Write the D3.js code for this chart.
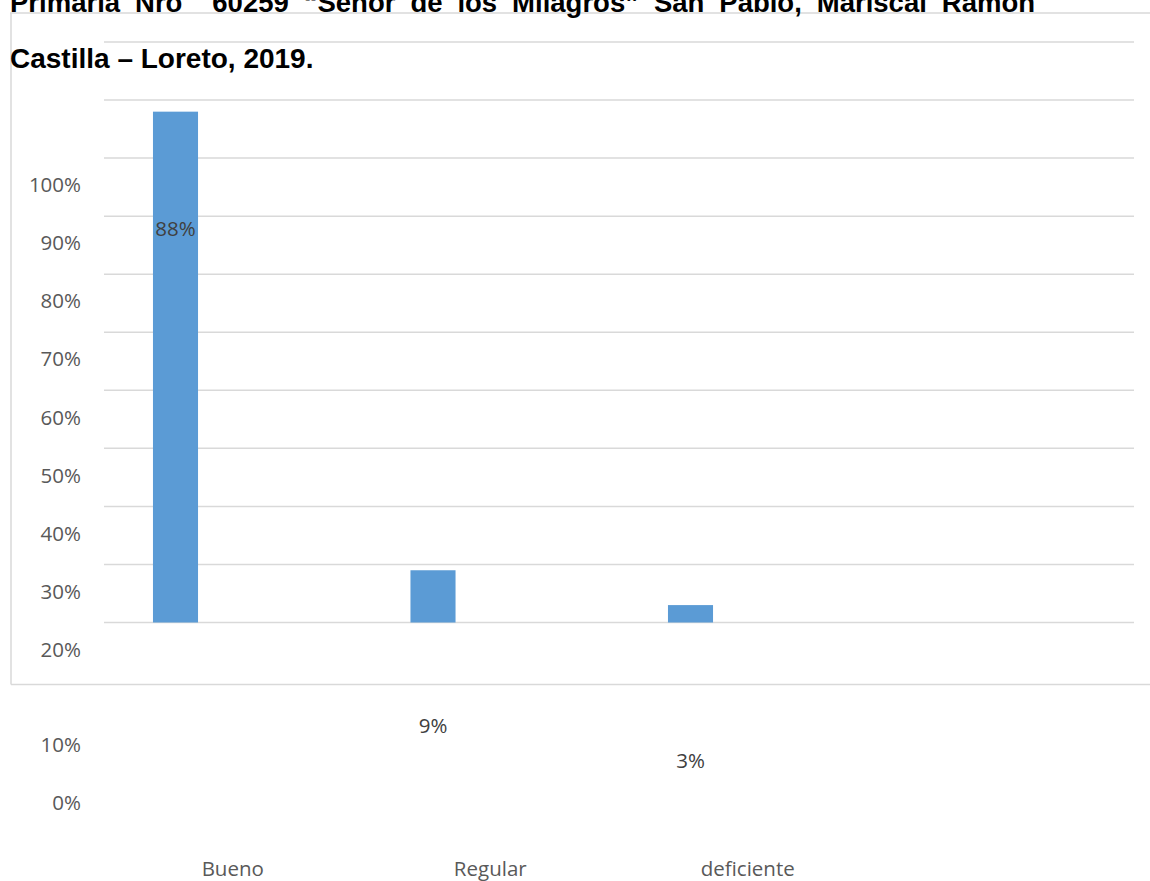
<!DOCTYPE html>
<html>
<head>
<meta charset="utf-8">
<script src="https://cdn.jsdelivr.net/npm/d3@7"></script>
<style>
  html, body { margin: 0; padding: 0; background: #ffffff; overflow: hidden; }
  svg { display: block; }
</style>
</head>
<body>
<svg id="chart" width="1150" height="881"></svg>
<script>
// Category slots (the fourth slot is left empty)
const categories = ["Bueno", "Regular", "deficiente", ""];
// Percentage of respondents per category
const values = [88, 9, 3, null];
// Axis tick values
const yTicks = [0, 10, 20, 30, 40, 50, 60, 70, 80, 90, 100];
const titleLines = [
  "Primaria Nro  60259 \u201cSeñor de los Milagros\u201d San Pablo, Mariscal Ramón",
  "Castilla \u2013 Loreto, 2019."
];

const W = 1150, H = 881;
const plot = { left: 104, right: 1134, top: 42, bottom: 622.5 };
const frame = { left: 11, top: 13, bottom: 684.5 };
const gridColor = "#d9d9d9";
const barColor = "#5b9bd5";
const axisFont = "'Open Sans', 'Noto Sans', sans-serif";

const svg = d3.select("#chart");

const x = d3.scaleBand()
  .domain(categories.map((c, i) => i))
  .range([plot.left, plot.right])
  .paddingInner(0.825)
  .paddingOuter(0.4125);

const y = d3.scaleLinear().domain([0, 100]).range([plot.bottom, plot.top]);

// The columns sit offset to the left of their category slots
const barShift = -57.25;

// Chart area border (left, top and bottom edges)
svg.append("path")
  .attr("d", `M${W},${frame.top}H${frame.left - 1}M${frame.left},${frame.top}V${frame.bottom}M${frame.left},${frame.bottom}H${W}`)
  .attr("fill", "none")
  .attr("stroke", gridColor)
  .attr("stroke-width", 1.5);

// Horizontal gridlines
svg.append("g")
  .selectAll("line")
  .data(yTicks)
  .join("line")
  .attr("x1", plot.left)
  .attr("x2", plot.right)
  .attr("y1", d => y(d))
  .attr("y2", d => y(d))
  .attr("stroke", gridColor)
  .attr("stroke-width", 1.5);

// Bars
const barData = values.map((v, i) => ({ i, v })).filter(d => d.v != null);
svg.append("g")
  .selectAll("rect")
  .data(barData)
  .join("rect")
  .attr("x", d => x(d.i) + barShift)
  .attr("width", x.bandwidth())
  .attr("y", d => y(d.v))
  .attr("height", d => y(0) - y(d.v))
  .attr("fill", barColor);

// Tick labels (rendered shifted below their gridlines)
const tickShift = d => (d >= 20 ? 143 : 180.5);
svg.append("g")
  .selectAll("text")
  .data(yTicks)
  .join("text")
  .attr("x", 81)
  .attr("y", d => y(d) + tickShift(d) + 7.3)
  .attr("text-anchor", "end")
  .attr("font-family", axisFont)
  .attr("font-size", 20.5)
  .attr("fill", "#595959")
  .text(d => d + "%");

// Value labels
const labelShift = d => (d.v > 50 ? 117.5 : 155.5);
svg.append("g")
  .selectAll("text")
  .data(barData)
  .join("text")
  .attr("x", d => x(d.i) + barShift + x.bandwidth() / 2)
  .attr("y", d => y(d.v) + labelShift(d) + 7.3)
  .attr("text-anchor", "middle")
  .attr("font-family", axisFont)
  .attr("font-size", 20.5)
  .attr("fill", "#404040")
  .text(d => d.v + "%");

// Category labels
svg.append("g")
  .selectAll("text")
  .data(categories.map((c, i) => ({ c, i })).filter(d => d.c))
  .join("text")
  .attr("x", d => x(d.i) + x.bandwidth() / 2)
  .attr("y", 876)
  .attr("text-anchor", "middle")
  .attr("font-family", axisFont)
  .attr("font-size", 20.5)
  .attr("fill", "#595959")
  .text(d => d.c);

// Title (first line justified to the paragraph width)
const titleRight = 1035;
const title = svg.append("g")
  .selectAll("text")
  .data(titleLines)
  .join("text")
  .attr("x", 10)
  .attr("y", (d, i) => 12 + i * 55.5)
  .attr("font-family", "'Liberation Sans', Arial, sans-serif")
  .attr("font-weight", "bold")
  .attr("font-size", (d, i) => (i === 0 ? 27.5 : 28))
  .attr("fill", "#000000")
  .style("white-space", "pre")
  .text(d => d);

title.filter((d, i) => i === 0).each(function (d) {
  const natural = this.getComputedTextLength();
  const spaces = (d.match(/ /g) || []).length;
  const extra = (titleRight - 10 - natural) / spaces;
  if (extra > 0) d3.select(this).attr("word-spacing", extra);
});
</script>
</body>
</html>
